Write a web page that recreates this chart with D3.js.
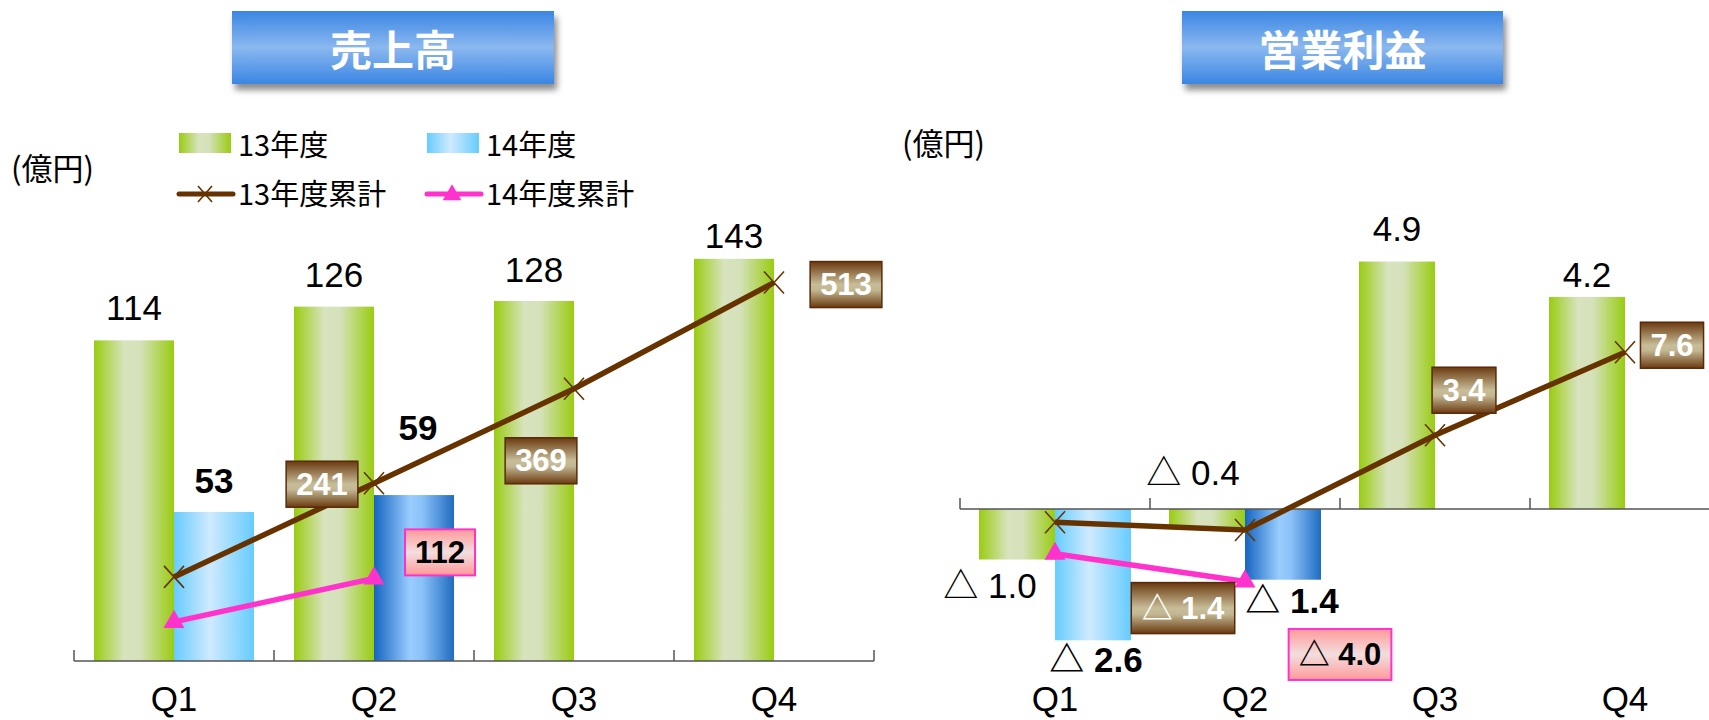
<!DOCTYPE html>
<html><head><meta charset="utf-8">
<script src="https://cdn.jsdelivr.net/npm/d3@7"></script>
<style>body{margin:0;background:#fff;} svg{display:block}</style>
</head><body><svg id="c" width="1709" height="720"></svg>
<script>
// ---------- data ----------
const quarters = ["Q1","Q2","Q3","Q4"];
const seriesNames = ["13年度","14年度","13年度累計","14年度累計"];
const panelTitles = ["売上高","営業利益"];
const unitText = "(億円)";
const sales13 = [114,126,128,143];
const sales14 = [53,59];
const salesCum13 = [114,241,369,513];
const salesCum14 = [53,112];
const profit13 = [-1.0,-0.4,4.9,4.2];
const profit14 = [-2.6,-1.4];
const profitCum13 = [-1.0,-1.4,3.4,7.6];
const profitCum14 = [-2.6,-4.0];

// ---------- setup ----------
const svg = d3.select("#c");
const NUM = "'Liberation Sans', Arial, 'Noto Sans CJK JP', sans-serif";
const JP = "'Noto Sans CJK JP', 'Liberation Sans', sans-serif";
const BROWN = "#663300", PINK = "#ff33cc";
const defs = svg.append("defs");
function grad(id, vertical, stops){
  const g = defs.append("linearGradient").attr("id", id)
    .attr("x1",0).attr("y1",0).attr("x2",vertical?0:1).attr("y2",vertical?1:0);
  stops.forEach(s=>g.append("stop").attr("offset",s[0]).attr("stop-color",s[1]));
}
grad("gGreen", false, [[0,"#99cc11"],[0.38,"#d8e3bf"],[0.58,"#d5e1b9"],[1,"#99cc11"]]);
grad("gLight", false, [[0,"#66ccff"],[0.45,"#cfeaff"],[1,"#66ccff"]]);
grad("gDark", false, [[0,"#1565c0"],[0.45,"#99ccff"],[0.6,"#8cc2f8"],[1,"#1f6cc0"]]);
grad("gBrown", true, [[0,"#6b3a10"],[0.5,"#c7bd98"],[0.62,"#c2b792"],[1,"#6b3a10"]]);
grad("gPink", true, [[0,"#ff9999"],[0.5,"#f2dede"],[1,"#ff9999"]]);
grad("gTitle", true, [[0,"#3a86e4"],[0.5,"#8bb8ef"],[1,"#3a86e4"]]);
const f = defs.append("filter").attr("id","shadow").attr("x","-10%").attr("y","-10%").attr("width","130%").attr("height","140%");
f.append("feDropShadow").attr("dx",3).attr("dy",6).attr("stdDeviation",3).attr("flood-color","#000").attr("flood-opacity",0.45);

const fmtInt = d3.format("d");
const fmtTri = v => v < 0 ? "△ " + Math.abs(v).toFixed(1) : v.toFixed(1);

const panels = [
  { title: panelTitles[0], titleBox:[232,11,322,73], unit:[11,180],
    xRange:[74,874], yDomain:[0,160], y2Domain:[0,610], yRange:[661,211],
    b13: sales13, b14: sales14, c13: salesCum13, c14: salesCum14, fmt: fmtInt,
    lab13: [[0,-20],[0,-20],[0,-19],[0,-11]],
    lab14: [[0,-19],[4,-55]],
    box13: [null,[-52,1],[-33,72],[72,2]],
    box14: [null,[66,-26]] },
  { title: panelTitles[1], titleBox:[1182,11,321,73], unit:[902,155],
    xRange:[960,1720], yDomain:[-3,6], y2Domain:[-8,15], yRange:[660.5,206],
    b13: profit13, b14: profit14, c13: profitCum13, c14: profitCum14, fmt: fmtTri,
    lab13: [[-27,38],[-14,-44],[0,-21],[0,-10]],
    lab14: [[3,32],[9,33]],
    box13: [null,[-62,78],[29,-45],[47,-7]],
    box14: [null,[95,73]] }
];
const fill14 = ["url(#gLight)","url(#gDark)"];

function drawBox(g, cx, cy, text, style){
  const grp = g.append("g");
  const t = grp.append("text").attr("x",cx).attr("y",cy).attr("text-anchor","middle")
    .attr("dominant-baseline","central").attr("font-family",NUM).attr("font-weight","bold")
    .attr("font-size",31).attr("fill", style==="brown" ? "#fff" : "#000").text(text);
  const bb = t.node().getBBox();
  const w = bb.width + 20, h = text.includes("△") ? 51 : 46;
  grp.insert("rect","text").attr("x",cx-w/2).attr("y",cy-h/2).attr("width",w).attr("height",h)
    .attr("fill", style==="brown" ? "url(#gBrown)" : "url(#gPink)")
    .attr("stroke", style==="brown" ? "#5a2a08" : PINK).attr("stroke-width", style==="brown"?1.5:2);
}

panels.forEach((p, pi) => {
  const g = svg.append("g");
  // title
  const [tx,ty,tw,th] = p.titleBox;
  g.append("rect").attr("x",tx).attr("y",ty).attr("width",tw).attr("height",th)
    .attr("fill","url(#gTitle)").attr("filter","url(#shadow)");
  g.append("text").attr("x",tx+tw/2).attr("y",ty+th/2).attr("text-anchor","middle")
    .attr("dominant-baseline","central").attr("font-family",JP).attr("font-weight","bold")
    .attr("font-size",42).attr("fill","#fff").text(p.title);
  // unit
  g.append("text").attr("x",p.unit[0]).attr("y",p.unit[1]).attr("font-family",JP)
    .attr("font-size",31).attr("fill","#000").text(unitText);

  const x0 = d3.scaleBand().domain(quarters).range(p.xRange).paddingInner(0).paddingOuter(0);
  const x1 = d3.scaleBand().domain(["13","14"]).range([0,x0.bandwidth()]).paddingInner(0).paddingOuter(0.25);
  const y = d3.scaleLinear().domain(p.yDomain).range(p.yRange);
  const y2 = d3.scaleLinear().domain(p.y2Domain).range(p.yRange);
  const cx = q => x0(q) + x0.bandwidth()/2;

  // bars 13
  g.selectAll(".b13").data(p.b13).join("rect")
    .attr("x",(d,i)=>x0(quarters[i])+x1("13")).attr("width",x1.bandwidth())
    .attr("y",d=>Math.min(y(d),y(0))).attr("height",d=>Math.abs(y(d)-y(0)))
    .attr("fill","url(#gGreen)");
  // bars 14
  g.selectAll(".b14").data(p.b14).join("rect")
    .attr("x",(d,i)=>x0(quarters[i])+x1("14")).attr("width",x1.bandwidth())
    .attr("y",d=>Math.min(y(d),y(0))).attr("height",d=>Math.abs(y(d)-y(0)))
    .attr("fill",(d,i)=>fill14[i]);

  // axis
  g.append("line").attr("x1",p.xRange[0]).attr("x2",p.xRange[1]).attr("y1",y(0)).attr("y2",y(0))
    .attr("stroke","#555").attr("stroke-width",1.5);
  const tickXs = quarters.map(q=>x0(q)).concat([p.xRange[1]]);
  g.selectAll(".tk").data(tickXs).join("line")
    .attr("x1",d=>d).attr("x2",d=>d).attr("y1",y(0)).attr("y2",y(0)-11)
    .attr("stroke","#555").attr("stroke-width",1.5);
  g.selectAll(".ql").data(quarters).join("text")
    .attr("x",d=>cx(d)).attr("y",711).attr("text-anchor","middle")
    .attr("font-family",NUM).attr("font-size",35).attr("fill","#000").text(d=>d);

  // cumulative lines
  const line = d3.line().x((d,i)=>cx(quarters[i])).y(d=>y2(d));
  g.append("path").attr("d",line(p.c13)).attr("fill","none").attr("stroke",BROWN).attr("stroke-width",5.5);
  g.selectAll(".m13").data(p.c13).join("path")
    .attr("transform",(d,i)=>`translate(${cx(quarters[i])},${y2(d)})`)
    .attr("d","M-10,-11L10,11M-10,11L10,-11").attr("stroke",BROWN).attr("stroke-width",1.6).attr("fill","none");
  g.append("path").attr("d",line(p.c14)).attr("fill","none").attr("stroke",PINK).attr("stroke-width",5.5);
  g.selectAll(".m14").data(p.c14).join("path")
    .attr("transform",(d,i)=>`translate(${cx(quarters[i])},${y2(d)})`)
    .attr("d",d3.symbol(d3.symbolTriangle,190)()).attr("fill",PINK);

  // value labels 13
  g.selectAll(".l13").data(p.b13).join("text")
    .attr("x",(d,i)=>x0(quarters[i])+x1("13")+x1.bandwidth()/2+p.lab13[i][0])
    .attr("y",(d,i)=>y(d)+p.lab13[i][1]).attr("text-anchor","middle")
    .attr("font-family",NUM).attr("font-size",35).attr("fill","#000").text(d=>p.fmt(d));
  // value labels 14 (bold)
  g.selectAll(".l14").data(p.b14).join("text")
    .attr("x",(d,i)=>x0(quarters[i])+x1("14")+x1.bandwidth()/2+p.lab14[i][0])
    .attr("y",(d,i)=>y(d)+p.lab14[i][1]).attr("text-anchor","middle")
    .attr("font-family",NUM).attr("font-weight","bold").attr("font-size",35).attr("fill","#000").text(d=>p.fmt(d));

  // cumulative boxes
  p.c13.forEach((v,i)=>{ const o=p.box13[i]; if(!o) return;
    drawBox(g, cx(quarters[i])+o[0], y2(v)+o[1], p.fmt(v), "brown"); });
  p.c14.forEach((v,i)=>{ const o=p.box14[i]; if(!o) return;
    drawBox(g, cx(quarters[i])+o[0], y2(v)+o[1], p.fmt(v), "pink"); });

  // legend (left panel only)
  if (pi === 0) {
    const lg = g.append("g");
    lg.append("rect").attr("x",179).attr("y",133).attr("width",52).attr("height",20).attr("fill","url(#gGreen)");
    lg.append("rect").attr("x",427).attr("y",133).attr("width",52).attr("height",20).attr("fill","url(#gLight)");
    lg.append("line").attr("x1",179).attr("x2",233).attr("y1",194).attr("y2",194)
      .attr("stroke",BROWN).attr("stroke-width",5).attr("stroke-linecap","round");
    lg.append("path").attr("transform","translate(205,194)").attr("d","M-7,-8L7,8M-7,8L7,-8")
      .attr("stroke",BROWN).attr("stroke-width",1.6);
    lg.append("line").attr("x1",427).attr("x2",481).attr("y1",194).attr("y2",194)
      .attr("stroke",PINK).attr("stroke-width",5).attr("stroke-linecap","round");
    lg.append("path").attr("transform","translate(452,195)").attr("d",d3.symbol(d3.symbolTriangle,150)()).attr("fill",PINK);
    const pos = [[238,143],[486,143],[238,192],[486,192]];
    lg.selectAll(".lt").data(seriesNames).join("text")
      .attr("x",(d,i)=>pos[i][0]).attr("y",(d,i)=>pos[i][1]).attr("dominant-baseline","central")
      .attr("font-family",JP).attr("font-size",29).attr("fill","#000").text(d=>d);
  }
});
</script></body></html>
